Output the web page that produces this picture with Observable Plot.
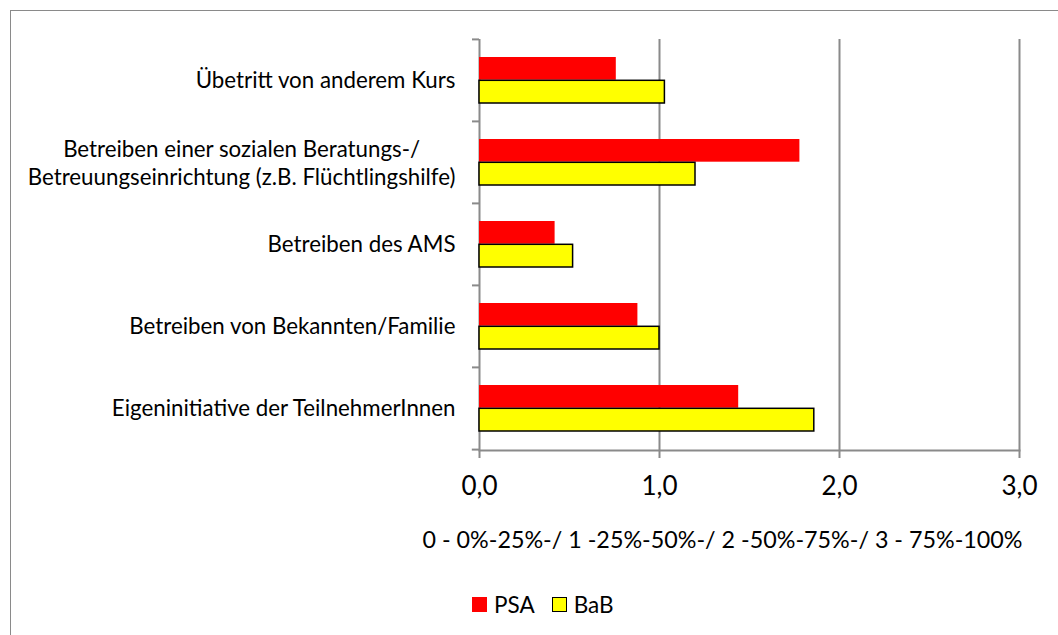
<!DOCTYPE html>
<html>
<head>
<meta charset="utf-8">
<script src="https://cdn.jsdelivr.net/npm/d3@7"></script>
<script src="https://cdn.jsdelivr.net/npm/@observablehq/plot@0.6"></script>
<style>
  html, body { margin: 0; padding: 0; background: #fff; overflow: hidden; }
  #wrap { position: relative; width: 1058px; height: 635px; font-family: Lato, "Open Sans", sans-serif; }
  #border { position: absolute; left: 10px; top: 10px; width: 1200px; height: 800px; border: 1.5px solid #8a8a8a; box-sizing: border-box; pointer-events: none; }
  #chart { position: absolute; left: 0; top: 0; }
  #legend { position: absolute; left: 472px; top: 591px; display: flex; align-items: center; font-size: 22.5px; color: #000; }
  .sw { width: 15px; height: 15px; box-sizing: border-box; margin-right: 7px; }
  .item { display: flex; align-items: center; margin-right: 17px; }
</style>
</head>
<body>
<div id="wrap">
  <div id="chart"></div>
  <div id="legend"></div>
  <div id="border"></div>
</div>
<script>
const categories = [
  "Übetritt von anderem Kurs",
  "Betreiben einer sozialen Beratungs-/\nBetreuungseinrichtung (z.B. Flüchtlingshilfe)",
  "Betreiben des AMS",
  "Betreiben von Bekannten/Familie",
  "Eigeninitiative der TeilnehmerInnen"
];
const series = ["PSA", "BaB"];
const colors = ["#ff0000", "#ffff00"];
const psa = [0.76, 1.78, 0.42, 0.88, 1.44];
const bab = [1.03, 1.20, 0.52, 1.00, 1.86];
const xTicks = [0, 1, 2, 3];
const xTitle = "0 - 0%-25%-/ 1 -25%-50%-/ 2 -50%-75%-/ 3 - 75%-100%";

const data = [];
categories.forEach((c, i) => {
  data.push({category: c, series: "PSA", value: psa[i]});
  data.push({category: c, series: "BaB", value: bab[i]});
});

const W = 1058, H = 580;
const mL = 479, mR = 39, mT = 39, mB = 130;
const step = (H - mT - mB) / categories.length;
const pInner = 0.433;
const bandW = step * (1 - pInner);
const half = bandW / 2;

const fontFamily = "Lato, 'Open Sans', sans-serif";
const catSize = 22.3;
const labelPad = 24;
const singles = categories.filter(c => !c.includes("\n"));
const multis = categories.filter(c => c.includes("\n"));

const gray = "#8a8a8a";

const plot = Plot.plot({
  width: W, height: H,
  marginLeft: mL, marginRight: mR, marginTop: mT, marginBottom: mB,
  style: {fontFamily, color: "#000", background: "#fff"},
  x: {domain: [0, 3]},
  y: {domain: categories, paddingInner: pInner, paddingOuter: pInner / 2},
  color: {domain: series, range: colors},
  marks: [
    Plot.ruleX(xTicks.filter(d => d > 0), {stroke: gray, strokeWidth: 2}),
    Plot.frame({anchor: "bottom", stroke: gray, strokeWidth: 2}),
    Plot.ruleY([categories[categories.length - 1]], {x1: -0.04, x2: 0, dy: step / 2, stroke: gray, strokeWidth: 2}),
    Plot.ruleX([0], {stroke: gray, strokeWidth: 2}),
    Plot.axisY({tickSize: 7, dy: -step / 2, text: null, label: null, stroke: gray, strokeWidth: 2}),
    Plot.axisY({ticks: singles, tickSize: 0, tickPadding: labelPad, fontSize: catSize, textAnchor: "end", label: null}),
    Plot.text(multis, {
      y: d => d, frameAnchor: "left", textAnchor: "middle",
      dx: -labelPad, fontSize: catSize, lineHeight: 1.25,
      text: d => d, className: "multi-label"
    }),
    Plot.barX(data.filter(d => d.series === "PSA"), {x: "value", y: "category", fill: "series", insetBottom: half}),
    Plot.barX(data.filter(d => d.series === "BaB"), {x: "value", y: "category", fill: "series", insetTop: half, stroke: "#000", strokeWidth: 1.5}),
    Plot.axisX({ticks: xTicks, tickSize: 8, tickPadding: 18, stroke: gray, strokeWidth: 2, fontSize: 26,
      tickFormat: d => d.toFixed(1).replace(".", ","), label: null}),
    Plot.text([xTitle], {frameAnchor: "bottom", dx: -27, dy: 97, fontSize: 23.3, text: d => d})
  ]
});
document.getElementById("chart").appendChild(plot);

// center multi-line labels as a block whose right edge sits at the label padding
d3.select(plot).selectAll("g.multi-label text").each(function() {
  const bb = this.getBBox();
  const shift = -(bb.x + bb.width);
  const t = this.getAttribute("transform") || "";
  this.setAttribute("transform", t + ` translate(${shift},0)`);
});

const legend = document.getElementById("legend");
series.forEach((s, i) => {
  const item = document.createElement("div");
  item.className = "item";
  const sw = document.createElement("div");
  sw.className = "sw";
  sw.style.background = colors[i];
  if (s === "BaB") sw.style.border = "1.5px solid #000";
  const lab = document.createElement("span");
  lab.textContent = s;
  item.appendChild(sw);
  item.appendChild(lab);
  legend.appendChild(item);
});
</script>
</body>
</html>
